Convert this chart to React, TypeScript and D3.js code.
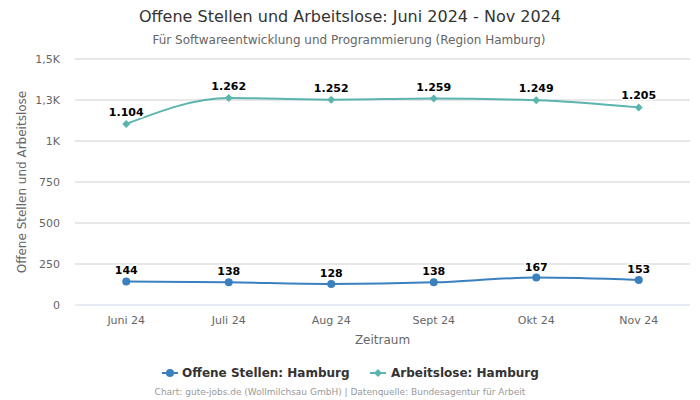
import React from "react";
import * as d3 from "d3";

const categories = ["Juni 24", "Juli 24", "Aug 24", "Sept 24", "Okt 24", "Nov 24"];
const offeneStellen = [144, 138, 128, 138, 167, 153];
const arbeitslose = [1104, 1262, 1252, 1259, 1249, 1205];
const yTicks = [0, 250, 500, 750, 1000, 1250, 1500];
const yTickLabels = ["0", "250", "500", "750", "1K", "1,3K", "1,5K"];

const W = 700, H = 400;
const left = 75, right = 690, top = 59, bottom = 305;
const FONT = "DejaVu Sans, sans-serif";
const blue = "#3a80bf";
const teal = "#5bb5ae";

const fmt = (v: number) => (v >= 1000 ? d3.format(",")(v).replace(",", ".") : String(v));

export default function App() {
  const x = d3.scaleBand<string>().domain(categories).range([left, right]);
  const y = d3.scaleLinear().domain([0, 1500]).range([bottom, top]);
  const cx = (c: string) => (x(c) as number) + x.bandwidth() / 2;
  const line = d3
    .line<number>()
    .x((_, i) => cx(categories[i]))
    .y((d) => y(d))
    .curve(d3.curveMonotoneX);

  const label = (v: number, px: number, py: number, key: string) => (
    <text
      key={key}
      x={px}
      y={py - 7}
      textAnchor="middle"
      fontSize={11}
      fontWeight="bold"
      fill="#000"
      stroke="#fff"
      strokeWidth={3}
      paintOrder="stroke"
      strokeLinejoin="round"
    >
      {fmt(v)}
    </text>
  );

  return (
    <svg width={W} height={H} style={{ position: "absolute", left: 0, top: 0, fontFamily: FONT }}>
      <rect width={W} height={H} fill="#fff" />
      <text x={350} y={22} textAnchor="middle" fontSize={16} fill="#333">
        Offene Stellen und Arbeitslose: Juni 2024 - Nov 2024
      </text>
      <text x={349} y={44} textAnchor="middle" fontSize={12} fill="#666">
        Für Softwareentwicklung und Programmierung (Region Hamburg)
      </text>
      {yTicks.map((t, i) => (
        <g key={t}>
          <line x1={left} x2={right} y1={y(t)} y2={y(t)} stroke={t === 0 ? "#ccd6eb" : "#d0d0d0"} strokeWidth={1} />
          <text x={60} y={y(t) + 4} textAnchor="end" fontSize={11} fill="#666">
            {yTickLabels[i]}
          </text>
        </g>
      ))}
      <text
        transform={`translate(26,${(top + bottom) / 2}) rotate(-90)`}
        textAnchor="middle"
        fontSize={12}
        fill="#666"
      >
        Offene Stellen und Arbeitslose
      </text>
      {categories.map((c) => (
        <text key={c} x={cx(c)} y={324} textAnchor="middle" fontSize={11} fill="#666">
          {c}
        </text>
      ))}
      <text x={(left + right) / 2} y={344} textAnchor="middle" fontSize={12} fill="#666">
        Zeitraum
      </text>
      <path d={line(arbeitslose) || ""} fill="none" stroke={teal} strokeWidth={2} />
      <path d={line(offeneStellen) || ""} fill="none" stroke={blue} strokeWidth={2} />
      {arbeitslose.map((v, i) => {
        const px = cx(categories[i]), py = y(v);
        return (
          <path key={"a" + i} d={`M${px},${py - 4}L${px + 4},${py}L${px},${py + 4}L${px - 4},${py}Z`} fill={teal} />
        );
      })}
      {offeneStellen.map((v, i) => (
        <circle key={"o" + i} cx={cx(categories[i])} cy={y(v)} r={4} fill={blue} />
      ))}
      {arbeitslose.map((v, i) => label(v, cx(categories[i]), y(v) - 1, "la" + i))}
      {offeneStellen.map((v, i) => label(v, cx(categories[i]), y(v), "lo" + i))}
      <g transform="translate(0,373)">
        <line x1={162} x2={178} y1={0} y2={0} stroke={blue} strokeWidth={2} />
        <circle cx={170} cy={0} r={4} fill={blue} />
        <text x={182} y={4} fontSize={12} fontWeight="bold" fill="#333">
          Offene Stellen: Hamburg
        </text>
        <line x1={370} x2={386} y1={0} y2={0} stroke={teal} strokeWidth={2} />
        <path d="M378,-4L382,0L378,4L374,0Z" fill={teal} />
        <text x={391} y={4} fontSize={12} fontWeight="bold" fill="#333">
          Arbeitslose: Hamburg
        </text>
      </g>
      <text x={340} y={395} textAnchor="middle" fontSize={9} fill="#999">
        Chart: gute-jobs.de (Wollmilchsau GmbH) | Datenquelle: Bundesagentur für Arbeit
      </text>
    </svg>
  );
}
